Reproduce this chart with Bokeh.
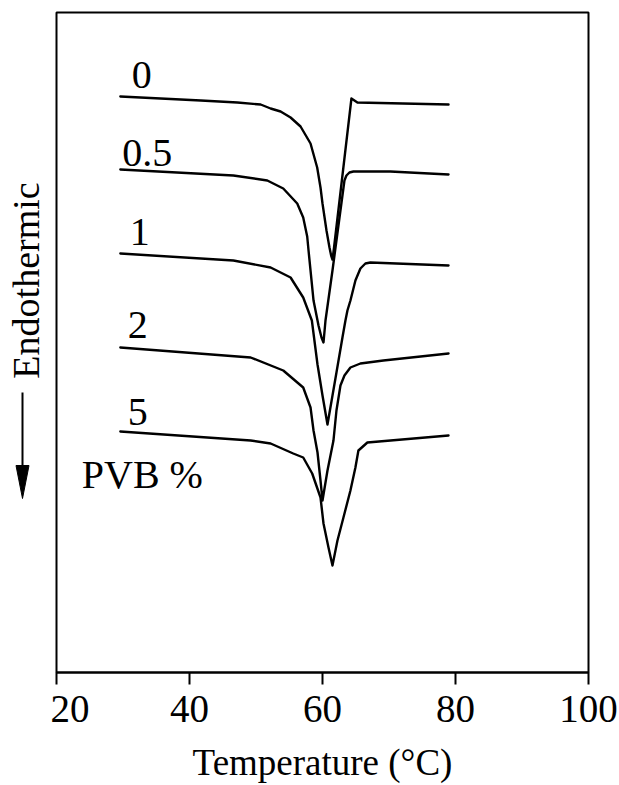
from bokeh.plotting import figure
from bokeh.layouts import row
from bokeh.models import Range1d, ColumnDataSource, FixedTicker
from bokeh.core.properties import value
from bokeh.embed import file_html
from bokeh.resources import INLINE
import math

# DSC curves (Temperature in degC, heat flow in arbitrary units, offset per curve)
T_0 = [29.6, 41.7, 47.2, 50.7, 52.2, 53.7, 55.2, 56.7, 58.2, 59.2, 59.7, 60.0, 60.6, 61.05, 61.3, 61.5, 61.7, 64.35, 65.25, 78.95]
S_0 = [576, 572, 570, 568, 564, 561, 555, 546, 529, 505, 485, 469, 442, 425, 417, 413, 423, 574, 570, 568]

T_05 = [29.6, 46.6, 51.7, 54.1, 56.2, 57.1, 57.7, 57.9, 58.65, 59.4, 59.85, 60.15, 60.45, 61.5, 63.3, 63.6, 64.05, 64.65, 70.2, 78.95]
S_05 = [503, 497, 492, 484, 469, 455, 436, 422, 372, 347, 335, 330, 352, 402, 492, 497, 500, 501, 501, 498]

T_1 = [29.6, 46.6, 52.2, 55.2, 57.1, 58.4, 59.25, 60.0, 60.75, 62.1, 63.0, 63.45, 63.75, 64.2, 64.95, 65.7, 66.45, 67.2, 78.95]
S_1 = [419, 412, 405, 395, 375, 352, 308, 277, 248, 300, 335, 352, 362, 372, 392, 404, 409, 410, 407]

T_2 = [29.6, 49.2, 54.1, 57.1, 58.2, 58.65, 59.25, 59.7, 60.0, 60.75, 61.65, 62.1, 62.7, 63.3, 64.2, 65.7, 69.15, 78.95]
S_2 = [325, 315, 302, 285, 265, 242, 220, 192, 172, 202, 232, 262, 287, 297, 305, 309, 312, 319]

T_5 = [29.6, 49.2, 52.2, 55.6, 57.1, 58.45, 59.7, 60.15, 60.9, 61.5, 62.25, 63.15, 64.2, 64.95, 65.4, 66.75, 78.95]
S_5 = [241, 232, 229, 219, 215, 199, 175, 149, 125, 107, 132, 155, 182, 205, 222, 230, 237]

# curve labels (PVB content, %)
label_text = ["0", "0.5", "1", "2", "5", "PVB %"]
label_T = [31.3, 29.9, 31.0, 30.7, 30.7, 23.8]
label_S = [598, 519.5, 441, 348, 261, 198.5]

x_ticks = [20, 40, 60, 80, 100]
y_title = "Endothermic"
x_title = "Temperature (°C)"

SERIF = "Liberation Serif"
H = 785

# ---- left strip: y-axis title with downward arrow (frame aligned with main frame) ----
lf = figure(width=50, height=H, output_backend="svg", toolbar_location=None,
            x_range=Range1d(0, 50), y_range=Range1d(0, 660),
            min_border_left=0, min_border_right=0, min_border_top=12, min_border_bottom=113)
lf.axis.visible = False
lf.grid.visible = False
lf.outline_line_color = None
lf.background_fill_color = "white"
lf.border_fill_color = "white"
lf.text(x=[25.8], y=[392], text=[y_title], angle=math.pi / 2,
        text_font=value(SERIF), text_font_size=value("38px"), text_color="black",
        text_align="center", text_baseline="middle")
lf.segment(x0=[22], y0=[280], x1=[22], y1=[204], line_color="black", line_width=2)
lf.patch(x=[15.5, 28.5, 22], y=[207, 207, 174], fill_color="black", line_color="black", line_width=1)

# ---- main plot ----
p = figure(width=569, height=H, output_backend="svg", toolbar_location=None,
           x_range=Range1d(20, 100), y_range=Range1d(0, 660),
           min_border_left=6, min_border_right=31, min_border_top=12, min_border_bottom=113)
p.background_fill_color = "white"
p.border_fill_color = "white"
p.outline_line_color = "black"
p.outline_line_width = 2
p.xgrid.visible = False
p.ygrid.visible = False
p.yaxis.visible = False

ax = p.xaxis[0]
ax.ticker = FixedTicker(ticks=x_ticks)
ax.axis_line_color = "black"
ax.axis_line_width = 2
ax.major_tick_line_color = "black"
ax.major_tick_line_width = 2
ax.major_tick_out = 12
ax.major_tick_in = 0
ax.minor_tick_out = 0
ax.minor_tick_in = 0
ax.major_label_text_font = SERIF
ax.major_label_text_font_size = "39px"
ax.major_label_text_color = "black"
ax.major_label_standoff = 11
ax.axis_label = x_title
ax.axis_label_text_font = SERIF
ax.axis_label_text_font_size = "37px"
ax.axis_label_text_font_style = "normal"
ax.axis_label_text_color = "black"
ax.axis_label_standoff = 17

for tx, sy in [(T_0, S_0), (T_05, S_05), (T_1, S_1), (T_2, S_2), (T_5, S_5)]:
    p.line(tx, sy, line_color="black", line_width=2.4, line_join="round", line_cap="round")

src = ColumnDataSource(dict(x=label_T, y=label_S, t=label_text))
p.text(x="x", y="y", text="t", source=src, text_font=value(SERIF), text_font_size=value("40px"),
       text_color="black", text_align="left", text_baseline="middle")

layout = row(lf, p, spacing=0)
open("out.html", "w").write(file_html(layout, INLINE))
